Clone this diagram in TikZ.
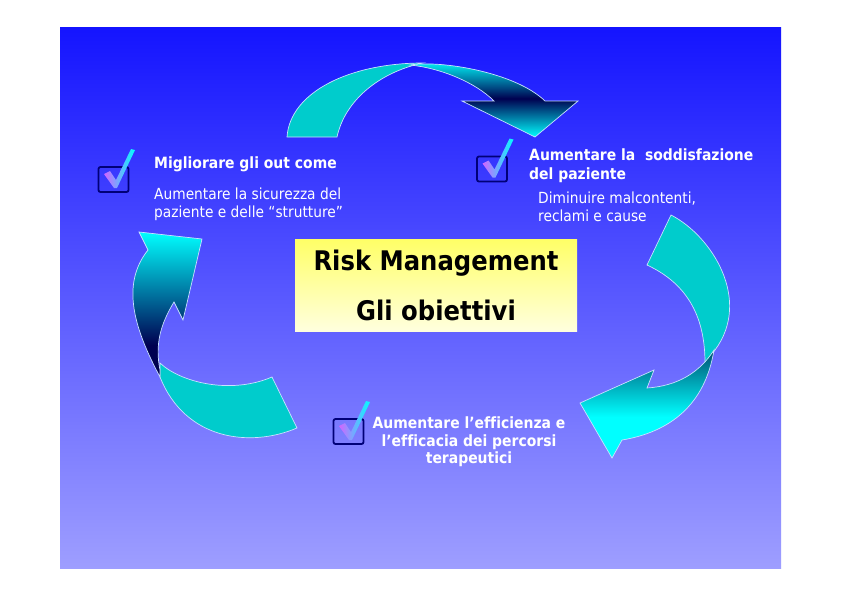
\documentclass[tikz,border=0pt]{standalone}
\usepackage{fontspec}
\setmainfont{DejaVu Sans}[FakeStretch=0.9, Ligatures=NoCommon]
\usetikzlibrary{positioning}

\definecolor{bgtop}{RGB}{20,20,255}
\definecolor{bgbot}{RGB}{158,158,255}
\definecolor{arrcyan}{RGB}{0,255,255}
\definecolor{arrteal}{RGB}{0,204,204}
\definecolor{arrnavy}{RGB}{0,0,80}
\definecolor{arrdark}{RGB}{0,80,112}
\definecolor{arrline}{RGB}{200,225,255}
\definecolor{boxnavy}{RGB}{0,0,120}
\definecolor{tickpink}{RGB}{210,100,255}
\definecolor{goaltop}{RGB}{255,255,102}
\definecolor{goalbot}{RGB}{255,255,222}

\pgfdeclareverticalshading{leftheadshade}{100bp}{color(0bp)=(arrnavy); color(36bp)=(arrnavy); color(75bp)=(arrcyan); color(100bp)=(arrcyan)}
\pgfdeclareverticalshading{rightheadshade}{100bp}{color(0bp)=(arrcyan); color(44bp)=(arrcyan); color(75bp)=(arrdark); color(100bp)=(arrdark)}

\begin{document}
\begin{tikzpicture}[
  x=1pt, y=-1pt,
  lbl/.style ={text=white, inner sep=0pt, font=\bfseries\fontsize{15.5}{18}\selectfont},
  sub/.style ={text=white, inner sep=0pt, font=\fontsize{15.3}{18}\selectfont},
  title/.style={text=black, inner sep=0pt, font=\bfseries\fontsize{27}{30}\selectfont},
  goal/.style={top color=goaltop, bottom color=goalbot, minimum width=282pt, minimum height=92pt, inner sep=0pt},
  arrtail/.style={fill=arrteal, draw=arrline, line width=0.7pt},
  arrhead/.style={draw=arrline, line width=0.7pt},
  cbox/.style={draw=boxnavy, line width=1.8pt, rounded corners=2pt,
               minimum width=30pt, minimum height=25pt, inner sep=0pt},
  tickmark/.pic={
    \shade[left color=tickpink, right color=arrcyan]
      (-9.5,-5.5) -- (-3.5,-8.5) -- (2.5,0.5) -- (17.5,-30.5) -- (21.5,-29.5)
      -- (3.5,8.5) -- (0.5,8.5) -- cycle;},
]
\useasboundingbox (0,0) rectangle (842,595);
\fill[white] (0,0) rectangle (842,595);
\shade[top color=bgtop, bottom color=bgbot] (60,27) rectangle (781,568);

% -------- cycle arrows ----------------------------------------------------
% top arrow
\path[arrtail] (287,137) .. controls (290,92) and (350,63) .. (423,63)
  .. controls (380,72) and (345,100) .. (337,137) -- cycle;
\path[arrhead, top color=arrcyan, bottom color=arrcyan, middle color=arrnavy]
  (410,65) .. controls (440,60) and (515,72) .. (545,101) -- (578,101) -- (535,137)
  -- (462,101) -- (494,101) .. controls (475,82) and (440,68) .. (410,65) -- cycle;

% right arrow
\path[arrtail] (671,215) .. controls (712,236) and (752,300) .. (715,350) -- (705,363)
  .. controls (705,320) and (690,285) .. (647,265) -- cycle;
\path[arrhead, shade, shading=rightheadshade]
  (714,350) .. controls (700,372) and (678,386) .. (647,388) -- (654,370) -- (580,403)
  -- (612,458) -- (622,440) .. controls (670,432) and (705,405) .. (714,350) -- cycle;

% left arrow
\path[arrtail] (160,363) .. controls (180,382) and (230,395) .. (272,377) -- (297,428)
  .. controls (250,448) and (185,440) .. (160,377) -- cycle;
\path[arrhead, shade, shading=leftheadshade]
  (160,377) .. controls (135,330) and (120,285) .. (148,250) -- (139,232) -- (202,239)
  -- (183,320) -- (174,302) .. controls (160,325) and (155,345) .. (160,370) -- cycle;

% -------- centre box ------------------------------------------------------
\node[goal] (aim) at (436,285) {};
\node[title, anchor=base] (aim1) at (436,270.5) {Risk Management};
\node[title, anchor=base] (aim2) at (436,320.5) {Gli obiettivi};

% -------- check boxes -----------------------------------------------------
\node[cbox] (cb1) at (113.5,179.5) {};
\pic at (cb1.center) {tickmark};
\node[cbox] (cb2) at (492,169) {};
\pic at (cb2.center) {tickmark};
\node[cbox] (cb3) at (348.5,431.5) {};
\pic at (cb3.center) {tickmark};

% -------- labels ----------------------------------------------------------
\node[lbl, anchor=base west] (out1) at (154,168.3) {Migliorare gli out come};
\node[sub, anchor=base west] (out2) at (154,199.3) {Aumentare la sicurezza del};
\node[sub, anchor=base west] (out3) at (154,217.3) {paziente e delle “strutture”};

\node[lbl, anchor=base west] (sat1) at (529,160.7) {Aumentare la \ soddisfazione};
\node[lbl, anchor=base west] (sat2) at (529,179.3) {del paziente};
\node[sub, anchor=base west] (sat3) at (538,203.3) {Diminuire malcontenti,};
\node[sub, anchor=base west] (sat4) at (538,221.7) {reclami e cause};

\node[lbl, anchor=base] (eff1) at (469,428.3) {Aumentare l’efficienza e};
\node[lbl, anchor=base] (eff2) at (469,446.7) {l’efficacia dei percorsi};
\node[lbl, anchor=base] (eff3) at (469,463.3) {terapeutici};

\end{tikzpicture}
\end{document}
